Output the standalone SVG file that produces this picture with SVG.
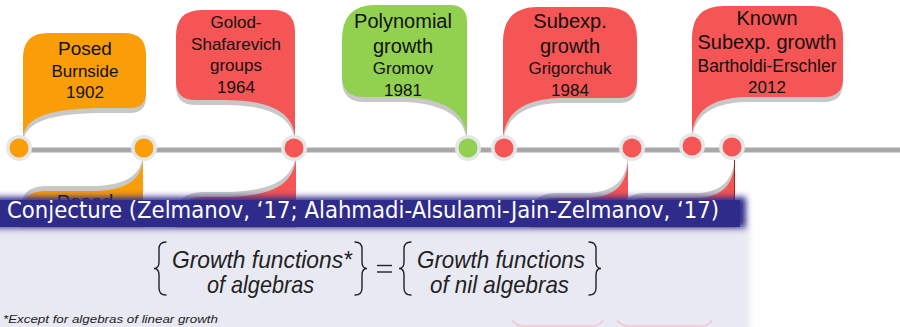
<svg xmlns="http://www.w3.org/2000/svg" width="900" height="327" viewBox="0 0 900 327">
<defs>
<style>
.ring{fill:#e6e6e6}
.o{fill:#f99d08}
.r{fill:#f55555}
.g{fill:#92d050}
.sh{fill:#c8c8c8}
.t{font-family:"Liberation Sans",Arial,sans-serif;fill:#111;text-anchor:middle}
.big{font-size:20px}
.mid{font-size:17px}
.hd{font-family:"DejaVu Sans","Liberation Sans",sans-serif;fill:#fff;font-size:23.5px}
.fm{font-family:"Liberation Sans",Arial,sans-serif;font-style:italic;fill:#222;font-size:24px}
.br{fill:none;stroke:#222;stroke-width:1.4;stroke-linecap:round}
</style>
<filter id="blur" x="-5%" y="-30%" width="110%" height="160%"><feGaussianBlur stdDeviation="3"/></filter>
</defs>
<rect width="900" height="327" fill="#fff"/>

<!-- callouts hidden below the conjecture box -->
<g id="hidden-callouts">
  <path class="sh" d="M143,155 L143,240 L20,240 L20,213 Q20,186 45,186 L95,186 C125,185 141,176 143,155 Z"/>
  <path class="o" d="M143,160 L143,240 L20,240 L20,218 Q20,191 45,191 L95,191 C125,190 141,181 143,160 Z"/>
  <text class="t big" x="85" y="209">Posed</text>
  <path class="sh" d="M296,155 L296,260 L175,260 L175,220 Q175,192 203,192 L232,192 C272,190 292,180 296,155 Z"/>
  <path class="r" d="M296,160 L296,260 L175,260 L175,225 Q175,197 203,197 L232,197 C272,195 292,185 296,160 Z"/>
  <path class="sh" d="M628,155 L628,260 L530,260 L530,220 Q530,193 555,193 L590,193 C615,191 627,180 628,155 Z"/>
  <path class="r" d="M628,160 L628,260 L530,260 L530,225 Q530,198 555,198 L590,198 C615,196 627,185 628,160 Z"/>
  <path class="sh" d="M735,155 L735,260 L620,260 L620,220 Q620,193 645,193 L700,193 C722,191 734,180 735,155 Z"/>
  <path class="r" d="M735,160 L735,260 L620,260 L620,225 Q620,198 645,198 L700,198 C722,196 734,185 735,160 Z"/>
  <line x1="734.5" y1="160" x2="734.5" y2="200" stroke="#a02020" stroke-width="1"/>
</g>

<!-- conjecture box -->
<g id="conjecture">
  <rect x="-10" y="226" width="760" height="120" fill="#e9e9f4" filter="url(#blur)"/>
  <rect x="0" y="228" width="738" height="100" fill="#e9e9f4"/>
  <rect x="-10" y="197" width="756" height="31" fill="#2f2b8a" filter="url(#blur)"/>
  <rect x="0" y="200" width="740" height="27" fill="#2f2b8a"/>
  <text class="hd" x="7" y="218" textLength="712" lengthAdjust="spacingAndGlyphs">Conjecture (Zelmanov, ‘17; Alahmadi-Alsulami-Jain-Zelmanov, ‘17)</text>
  <path class="br" d="M166,242 Q159,242 159,249 L159,262 Q159,268.5 154,268.5 Q159,268.5 159,275 L159,288 Q159,295 166,295"/>
  <text class="fm" x="172" y="268" textLength="180" lengthAdjust="spacingAndGlyphs">Growth functions*</text>
  <text class="fm" x="207" y="293" textLength="107" lengthAdjust="spacingAndGlyphs">of algebras</text>
  <path class="br" d="M355,242 Q362,242 362,249 L362,262 Q362,268.5 367,268.5 Q362,268.5 362,275 L362,288 Q362,295 355,295"/>
  <line x1="377" y1="265.5" x2="392" y2="265.5" stroke="#222" stroke-width="1.4"/>
  <line x1="377" y1="272" x2="392" y2="272" stroke="#222" stroke-width="1.4"/>
  <path class="br" d="M411,242 Q404,242 404,249 L404,262 Q404,268.5 399,268.5 Q404,268.5 404,275 L404,288 Q404,295 411,295"/>
  <text class="fm" x="417" y="268" textLength="168" lengthAdjust="spacingAndGlyphs">Growth functions</text>
  <text class="fm" x="430" y="293" textLength="139" lengthAdjust="spacingAndGlyphs">of nil algebras</text>
  <path class="br" d="M589,242 Q596,242 596,249 L596,262 Q596,268.5 601,268.5 Q596,268.5 596,275 L596,288 Q596,295 589,295"/>
  <text x="3" y="323" font-family="Liberation Sans, Arial, sans-serif" font-style="italic" font-size="11.5" fill="#222" textLength="215" lengthAdjust="spacingAndGlyphs">*Except for algebras of linear growth</text>
  <path d="M512,320 Q516,326 524,326 L592,326 Q600,326 603,320" fill="none" stroke="#f3c6cf" stroke-width="1.5"/>
  <path d="M617,320 Q621,326 629,326 L701,326 Q709,326 712,320" fill="none" stroke="#f3c6cf" stroke-width="1.5"/>
</g>

<!-- timeline connector -->
<g id="connectors">
  <line x1="18" y1="150" x2="900" y2="150" stroke="#a8a8a8" stroke-width="5"/>
</g>

<g id="ev-burnside">
  <path class="sh" d="M23,142 L23,63 Q23,38 48,38 L124,38 Q146,38 146,60 L146,97 Q146,113 130,113 L105,113 C50,113 25,122 23,142 Z"/>
  <path class="o" d="M23,137 L23,58 Q23,33 48,33 L124,33 Q146,33 146,55 L146,92 Q146,108 130,108 L105,108 C50,108 25,117 23,137 Z"/>
  <text class="t" x="85" y="55" font-size="19">Posed</text>
  <text class="t mid" x="85" y="77">Burnside</text>
  <text class="t mid" x="85" y="98">1902</text>
  <circle class="ring" cx="19" cy="148" r="13"/><circle class="o" cx="19" cy="148" r="9.5"/>
</g>

<g id="ev-posed-2">
  <circle class="ring" cx="144" cy="148" r="13"/><circle class="o" cx="144" cy="148" r="9.5"/>
</g>

<g id="ev-golod">
  <path class="sh" d="M295,142 L295,37 Q295,15 273,15 L202,15 Q176,15 176,41 L176,87 Q176,105 196,105 L225,105 C270,105 293,117 295,142 Z"/>
  <path class="r" d="M295,137 L295,32 Q295,10 273,10 L202,10 Q176,10 176,36 L176,82 Q176,100 196,100 L225,100 C270,100 293,112 295,137 Z"/>
  <text class="t mid" x="236" y="28">Golod-</text>
  <text class="t mid" x="236" y="50">Shafarevich</text>
  <text class="t mid" x="236" y="71">groups</text>
  <text class="t mid" x="236" y="92.5">1964</text>
  <circle class="ring" cx="294" cy="148" r="13"/><circle class="r" cx="294" cy="148" r="9.5"/>
</g>

<g id="ev-gromov">
  <path class="sh" d="M467,142 L467,27 Q467,10 450,10 L375,10 Q342,10 342,45 L342,80 Q342,102 364,102 L405,102 C445,104 465,117 467,142 Z"/>
  <path class="g" d="M467,137 L467,22 Q467,5 450,5 L375,5 Q342,5 342,40 L342,75 Q342,97 364,97 L405,97 C445,99 465,112 467,137 Z"/>
  <text class="t big" x="403" y="28">Polynomial</text>
  <text class="t big" x="403" y="53">growth</text>
  <text class="t mid" x="403" y="74">Gromov</text>
  <text class="t mid" x="403" y="95.5">1981</text>
  <circle class="ring" cx="468" cy="148" r="13"/><circle class="g" cx="468" cy="148" r="9.5"/>
</g>

<g id="ev-grigorchuk">
  <path class="sh" d="M503,142 L503,47 Q503,12 538,12 L605,12 Q637,12 637,44 L637,85 Q637,103 619,103 L560,103 C525,104 506,117 503,142 Z"/>
  <path class="r" d="M503,137 L503,42 Q503,7 538,7 L605,7 Q637,7 637,39 L637,80 Q637,98 619,98 L560,98 C525,99 506,112 503,137 Z"/>
  <text class="t big" x="570" y="28">Subexp.</text>
  <text class="t big" x="570" y="53">growth</text>
  <text class="t mid" x="570" y="74">Grigorchuk</text>
  <text class="t mid" x="570" y="95.5">1984</text>
  <circle class="ring" cx="504" cy="148" r="13"/><circle class="r" cx="504" cy="148" r="9.5"/>
</g>

<g id="ev-632">
  <circle class="ring" cx="632" cy="148" r="13"/><circle class="r" cx="632" cy="148" r="9.5"/>
</g>

<g id="ev-bartholdi">
  <path class="sh" d="M692,140 L692,43 Q692,11 724,11 L812,11 Q843,11 843,42 L843,83 Q843,102 824,102 L745,102 C710,103 694,117 692,140 Z"/>
  <path class="r" d="M692,135 L692,38 Q692,6 724,6 L812,6 Q843,6 843,37 L843,78 Q843,97 824,97 L745,97 C710,98 694,112 692,135 Z"/>
  <text class="t big" x="767" y="25">Known</text>
  <text class="t big" x="767" y="49">Subexp. growth</text>
  <text class="t" x="767" y="71.5" font-size="17.5">Bartholdi-Erschler</text>
  <text class="t mid" x="767" y="92.5">2012</text>
  <circle class="ring" cx="692" cy="146" r="13"/><circle class="r" cx="692" cy="146" r="9.5"/>
</g>

<g id="ev-731">
  <circle class="ring" cx="732" cy="147" r="13"/><circle class="r" cx="732" cy="147" r="9.5"/>
</g>
</svg>
